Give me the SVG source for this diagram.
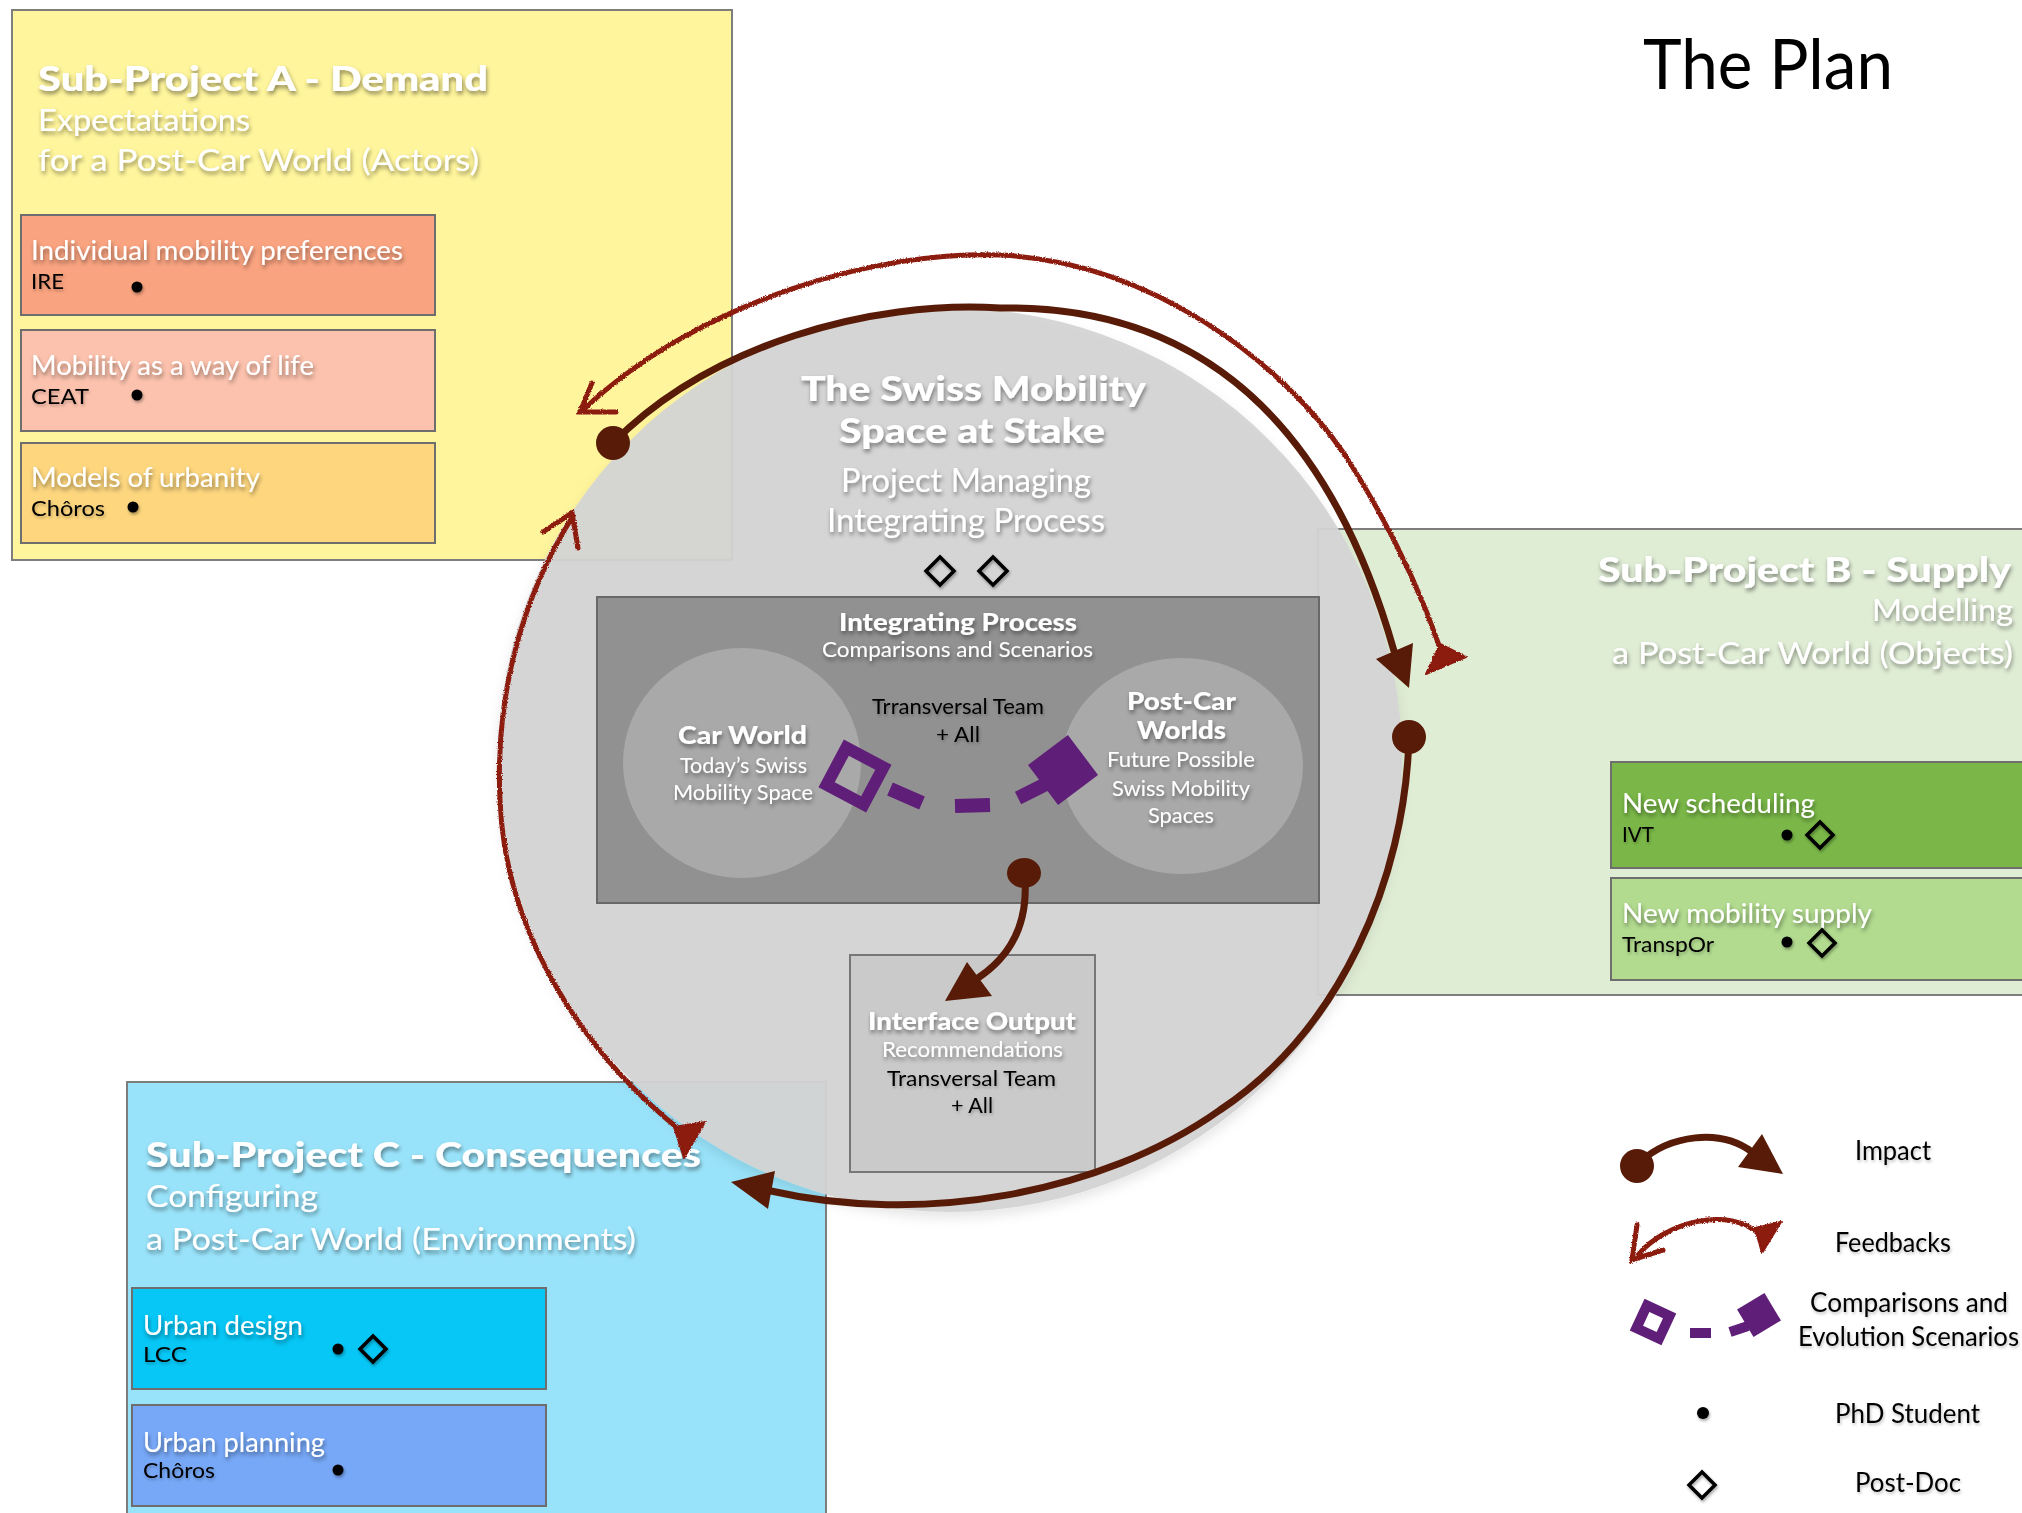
<svg xmlns="http://www.w3.org/2000/svg" width="2022" height="1513" viewBox="0 0 2022 1513">
<defs>
<style>
text{font-family:Lato,"Open Sans","Liberation Sans",sans-serif}
.w{fill:#fff;filter:url(#ts)}
.k{fill:#000;filter:url(#tsl)}
.bd{font-weight:900}
.t34{font-size:34px}.t31{font-size:31px}.t26{font-size:26px}.t21{font-size:21px}.t24{font-size:24px}.t22{font-size:22px}
.box{stroke:#7d7d7d;stroke-width:2}
.sub{stroke:#6e6e6e;stroke-width:2}
.dot{fill:#000;filter:url(#ds)}
.dia{fill:none;stroke:#000;stroke-width:3.5;stroke-linejoin:miter;filter:url(#ds)}
.imp{fill:none;stroke:#581b07;stroke-width:7;stroke-linecap:round}
.impf{fill:#581b07}
.fb{fill:none;stroke:#8c1a10;stroke-width:5;stroke-linecap:round;filter:url(#rough)}
.fbf{fill:#8c1a10;stroke:#8c1a10;stroke-width:2;stroke-linejoin:round;filter:url(#rough)}
.pur{fill:#5f1e78}
.purs{fill:none;stroke:#5f1e78}
</style>
<filter id="ts" x="-10%" y="-40%" width="120%" height="190%"><feDropShadow dx="1" dy="3" stdDeviation="2" flood-color="#000" flood-opacity="0.45"/></filter>
<filter id="tsl" x="-10%" y="-40%" width="120%" height="190%"><feDropShadow dx="1" dy="2" stdDeviation="1.5" flood-color="#000" flood-opacity="0.25"/></filter>
<filter id="ds" x="-50%" y="-50%" width="200%" height="200%"><feDropShadow dx="1" dy="2" stdDeviation="1.5" flood-color="#000" flood-opacity="0.35"/></filter>
<filter id="cs" x="-10%" y="-10%" width="120%" height="125%"><feDropShadow dx="0" dy="6" stdDeviation="6" flood-color="#000" flood-opacity="0.1"/></filter>
<filter id="rough" x="-10%" y="-10%" width="120%" height="120%"><feTurbulence type="fractalNoise" baseFrequency="0.8" numOctaves="2" seed="3" result="n"/><feDisplacementMap in="SourceGraphic" in2="n" scale="3" xChannelSelector="R" yChannelSelector="G"/></filter>
</defs>
<rect width="2022" height="1513" fill="#fff"/>

<g id="sub-project-a">
<rect class="box" x="12" y="10" width="720" height="550" fill="#fff59c"/>
<text class="w bd t34" x="38" y="91" textLength="450" lengthAdjust="spacingAndGlyphs">Sub-Project A - Demand</text>
<text class="w t31" x="38" y="131" textLength="212" lengthAdjust="spacingAndGlyphs">Expectatations</text>
<text class="w t31" x="38" y="171" textLength="441" lengthAdjust="spacingAndGlyphs">for a Post-Car World (Actors)</text>
</g>
<g id="a-individual-mobility">
<rect class="sub" x="21" y="215" width="414" height="100" fill="#f9a380"/>
<text class="w t26" x="31" y="260" textLength="372" lengthAdjust="spacingAndGlyphs">Individual mobility preferences</text>
<text class="k t21" x="31" y="289" textLength="33" lengthAdjust="spacingAndGlyphs">IRE</text>
<circle class="dot" cx="137" cy="287" r="5.5"/>
</g>
<g id="a-mobility-way-of-life">
<rect class="sub" x="21" y="330" width="414" height="101" fill="#fcc2ad"/>
<text class="w t26" x="31" y="375" textLength="283" lengthAdjust="spacingAndGlyphs">Mobility as a way of life</text>
<text class="k t21" x="31" y="404" textLength="58" lengthAdjust="spacingAndGlyphs">CEAT</text>
<circle class="dot" cx="137" cy="395" r="5.5"/>
</g>
<g id="a-models-urbanity">
<rect class="sub" x="21" y="443" width="414" height="100" fill="#fdd67e"/>
<text class="w t26" x="31" y="487" textLength="229" lengthAdjust="spacingAndGlyphs">Models of urbanity</text>
<text class="k t21" x="31" y="516" textLength="74" lengthAdjust="spacingAndGlyphs">Chôros</text>
<circle class="dot" cx="133" cy="507" r="5.5"/>
</g>

<g id="sub-project-b">
<rect class="box" x="1318" y="529" width="720" height="466" fill="#e0edd5"/>
<text class="w bd t34" x="1598" y="582" textLength="413" lengthAdjust="spacingAndGlyphs">Sub-Project B - Supply</text>
<text class="w t31" x="1872" y="621" textLength="141" lengthAdjust="spacingAndGlyphs">Modelling</text>
<text class="w t31" x="1612" y="664" textLength="401" lengthAdjust="spacingAndGlyphs">a Post-Car World (Objects)</text>
</g>
<g id="b-new-scheduling">
<rect class="sub" x="1611" y="762" width="430" height="106" fill="#7ab748"/>
<text class="w t26" x="1622" y="813" textLength="193" lengthAdjust="spacingAndGlyphs">New scheduling</text>
<text class="k t21" x="1622" y="842" textLength="32" lengthAdjust="spacingAndGlyphs">IVT</text>
<circle class="dot" cx="1787" cy="835" r="5.5"/>
<polygon class="dia" points="1820,822 1833,835 1820,848 1807,835"/>
</g>
<g id="b-new-mobility-supply">
<rect class="sub" x="1611" y="878" width="430" height="102" fill="#b2db8f"/>
<text class="w t26" x="1622" y="923" textLength="250" lengthAdjust="spacingAndGlyphs">New mobility supply</text>
<text class="k t21" x="1622" y="952" textLength="92" lengthAdjust="spacingAndGlyphs">TranspOr</text>
<circle class="dot" cx="1787" cy="942" r="5.5"/>
<polygon class="dia" points="1822,930 1835,943 1822,956 1809,943"/>
</g>

<g id="sub-project-c">
<rect class="box" x="127" y="1082" width="699" height="450" fill="#99e3fa"/>
</g>
<g id="c-urban-design">
<rect class="sub" x="132" y="1288" width="414" height="101" fill="#06c7f6"/>
<text class="w t26" x="143" y="1335" textLength="160" lengthAdjust="spacingAndGlyphs">Urban design</text>
<text class="k t21" x="143" y="1362" textLength="44" lengthAdjust="spacingAndGlyphs">LCC</text>
<circle class="dot" cx="338" cy="1349" r="5.5"/>
<polygon class="dia" points="373,1336 386,1349 373,1362 360,1349"/>
</g>
<g id="c-urban-planning">
<rect class="sub" x="132" y="1405" width="414" height="101" fill="#77a8f7"/>
<text class="w t26" x="143" y="1452" textLength="182" lengthAdjust="spacingAndGlyphs">Urban planning</text>
<text class="k t21" x="143" y="1478" textLength="72" lengthAdjust="spacingAndGlyphs">Chôros</text>
<circle class="dot" cx="338" cy="1470" r="5.5"/>
</g>

<g id="swiss-mobility-space">
<circle cx="950" cy="760" r="452" fill="#d4d4d4" fill-opacity="0.95" filter="url(#cs)"/>
<text class="w bd" font-size="35" x="801" y="401" textLength="345" lengthAdjust="spacingAndGlyphs">The Swiss Mobility</text>
<text class="w bd" font-size="35" x="839" y="443" textLength="266" lengthAdjust="spacingAndGlyphs">Space at Stake</text>
<text class="w" font-size="32" x="841" y="492" textLength="250" lengthAdjust="spacingAndGlyphs">Project Managing</text>
<text class="w" font-size="32" x="827" y="532" textLength="278" lengthAdjust="spacingAndGlyphs">Integrating Process</text>
<polygon class="dia" points="940,557 954,571 940,585 926,571"/>
<polygon class="dia" points="993,557 1007,571 993,585 979,571"/>
</g>

<g id="integrating-process">
<rect x="597" y="597" width="722" height="306" fill="#919191" stroke="#686868" stroke-width="2"/>
<text class="w bd t24" x="839" y="631" textLength="238" lengthAdjust="spacingAndGlyphs">Integrating Process</text>
<text class="w t22" x="822" y="657" textLength="271" lengthAdjust="spacingAndGlyphs">Comparisons and Scenarios</text>
<text class="k t22" x="872" y="714" textLength="172" lengthAdjust="spacingAndGlyphs">Trransversal Team</text>
<text class="k t22" x="936" y="742" textLength="44" lengthAdjust="spacingAndGlyphs">+ All</text>
</g>
<g id="car-world">
<ellipse cx="742" cy="763" rx="119" ry="115" fill="#a9a9a9"/>
<text class="w bd" font-size="24" x="678" y="744" textLength="129" lengthAdjust="spacingAndGlyphs">Car World</text>
<text class="w t22" x="680" y="773" textLength="127" lengthAdjust="spacingAndGlyphs">Today’s Swiss</text>
<text class="w t22" x="673" y="800" textLength="140" lengthAdjust="spacingAndGlyphs">Mobility Space</text>
</g>
<g id="post-car-worlds">
<ellipse cx="1182" cy="766" rx="121" ry="108" fill="#a9a9a9"/>
<text class="w bd" font-size="24" x="1127" y="710" textLength="109" lengthAdjust="spacingAndGlyphs">Post-Car</text>
<text class="w bd" font-size="24" x="1137" y="739" textLength="89" lengthAdjust="spacingAndGlyphs">Worlds</text>
<text class="w t22" x="1107" y="767" textLength="148" lengthAdjust="spacingAndGlyphs">Future Possible</text>
<text class="w t22" x="1112" y="796" textLength="138" lengthAdjust="spacingAndGlyphs">Swiss Mobility</text>
<text class="w t22" x="1148" y="823" textLength="66" lengthAdjust="spacingAndGlyphs">Spaces</text>
</g>
<g id="interface-output">
<rect x="850" y="955" width="245" height="217" fill="#cacaca" stroke="#777" stroke-width="2"/>
<text class="w bd t24" x="868" y="1030" textLength="208" lengthAdjust="spacingAndGlyphs">Interface Output</text>
<text class="w t22" x="882" y="1057" textLength="181" lengthAdjust="spacingAndGlyphs">Recommendations</text>
<text class="k t22" x="887" y="1086" textLength="169" lengthAdjust="spacingAndGlyphs">Transversal  Team</text>
<text class="k t22" x="951" y="1113" textLength="42" lengthAdjust="spacingAndGlyphs">+ All</text>
</g>

<g id="sub-project-c-titles">
<text class="w bd t34" x="146" y="1167" textLength="555" lengthAdjust="spacingAndGlyphs">Sub-Project C - Consequences</text>
<text class="w t31" x="146" y="1207" textLength="172" lengthAdjust="spacingAndGlyphs">Configuring</text>
<text class="w t31" x="146" y="1250" textLength="490" lengthAdjust="spacingAndGlyphs">a Post-Car World (Environments)</text>
</g>

<g id="title">
<text x="1643" y="89" font-size="70" fill="#000" textLength="250" lengthAdjust="spacingAndGlyphs">The Plan</text>
</g>

<g id="connectors">
<rect class="purs" x="-21" y="-21" width="42" height="42" stroke-width="12" transform="translate(855,776) rotate(28)"/>
<line x1="890" y1="789" x2="922" y2="803" stroke="#5f1e78" stroke-width="14"/>
<line x1="955" y1="806" x2="990" y2="805" stroke="#5f1e78" stroke-width="14"/>
<line x1="1018" y1="798" x2="1050" y2="782" stroke="#5f1e78" stroke-width="14"/>
<rect class="pur" x="-25" y="-25" width="50" height="50" transform="translate(1063,770) rotate(-37)"/>
<circle class="impf" cx="613" cy="443" r="17"/>
<path class="imp" d="M613 443 C710 345,870 300,1000 308 C1170 305,1320 390,1394 651"/>
<polygon class="impf" points="1376,659 1413,643 1409,688"/>
<circle class="impf" cx="1409" cy="737" r="17"/>
<path class="imp" d="M1409 737 C1405 880,1340 1030,1220 1110 C1100 1195,920 1225,771 1191"/>
<polygon class="impf" points="775,1171 768,1209 731,1182"/>
<ellipse class="impf" cx="1024" cy="873" rx="17" ry="15"/>
<path class="imp" d="M1025 880 C1028 930,1005 960,978 978"/>
<polygon class="impf" points="967,962 992,996 945,1001"/>
<path class="fb" d="M583 410 C700 300,880 250,1000 255 C1150 262,1280 360,1345 455 C1390 525,1420 590,1440 648"/>
<polyline class="fb" points="592,383 580,412 616,412"/>
<polygon class="fbf" points="1440,644 1466,657 1426,674"/>
<path class="fb" d="M573 516 C520 600,495 700,500 800 C505 930,580 1050,680 1130"/>
<polyline class="fb" points="543,532 572,513 578,548"/>
<polygon class="fbf" points="674,1127 705,1122 684,1158"/>
</g>

<g id="legend">
<circle class="impf" cx="1637" cy="1166" r="17"/>
<path class="imp" d="M1640 1162 C1670 1135,1720 1128,1752 1152" stroke-width="8"/>
<polygon class="impf" points="1738,1167 1762,1134 1783,1174"/>
<text class="k t26" x="1855" y="1160" textLength="76" lengthAdjust="spacingAndGlyphs">Impact</text>
<path class="fb" d="M1638 1255 C1665 1222,1730 1205,1760 1235"/>
<polyline class="fb" points="1637,1225 1632,1260 1663,1250"/>
<polygon class="fbf" points="1755,1228 1781,1222 1762,1253"/>
<text class="k t26" x="1835" y="1252" textLength="116" lengthAdjust="spacingAndGlyphs">Feedbacks</text>
<rect class="purs" x="-12.5" y="-12.5" width="25" height="25" stroke-width="10" transform="translate(1653,1322) rotate(25)"/>
<line x1="1690" y1="1333" x2="1711" y2="1333" stroke="#5f1e78" stroke-width="10"/>
<line x1="1730" y1="1332" x2="1748" y2="1326" stroke="#5f1e78" stroke-width="10"/>
<rect class="pur" x="-16" y="-16" width="32" height="32" transform="translate(1759,1315) rotate(-31)"/>
<text class="k t26" x="1810" y="1312" textLength="198" lengthAdjust="spacingAndGlyphs">Comparisons and</text>
<text class="k t26" x="1798" y="1346" textLength="221" lengthAdjust="spacingAndGlyphs">Evolution Scenarios</text>
<circle class="dot" cx="1703" cy="1413" r="6"/>
<text class="k t26" x="1835" y="1423" textLength="145" lengthAdjust="spacingAndGlyphs">PhD Student</text>
<polygon class="dia" points="1702,1472 1715,1485 1702,1498 1689,1485"/>
<text class="k t26" x="1855" y="1492" textLength="106" lengthAdjust="spacingAndGlyphs">Post-Doc</text>
</g>
</svg>
